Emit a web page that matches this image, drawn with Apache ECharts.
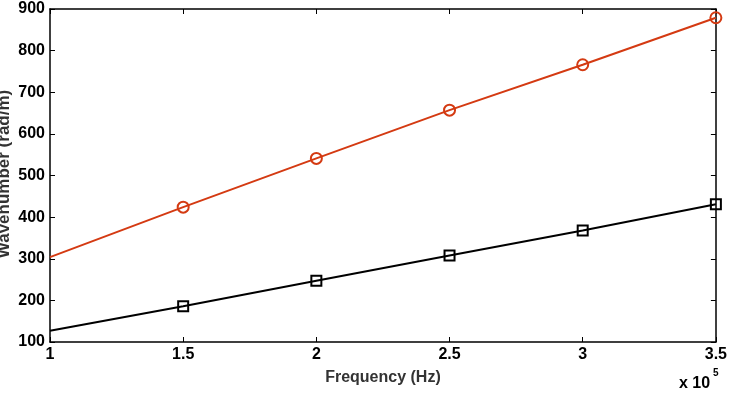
<!DOCTYPE html>
<html><head><meta charset="utf-8">
<script src="https://cdn.jsdelivr.net/npm/echarts@6/dist/echarts.min.js"></script>
<style>html,body{margin:0;padding:0;background:#fff}#c{width:730px;height:398px}</style>
</head><body><div id="c"></div>
<script>
const freq = [1, 1.5, 2, 2.5, 3, 3.5]; // x 10^5 Hz
const redSeries = [304, 424, 541, 657, 766, 879];
const blackSeries = [127, 186, 247, 308, 368, 431];
const xTicks = [1, 1.5, 2, 2.5, 3, 3.5];
const yTicks = [100, 200, 300, 400, 500, 600, 700, 800, 900];

const font = 'Liberation Sans, Arial, sans-serif';
function pts(vals){
  return vals.map((v,i)=>({value:[freq[i], v], symbol: i===0 ? 'none' : undefined}));
}
const chart = echarts.init(document.getElementById('c'));
const tickStyle = {show:true, inside:true, length:5, lineStyle:{color:'#000', width:1}};
chart.setOption({
  animation:false,
  grid:{left:50, right:11, top:9, bottom:56, show:false},
  xAxis:[{
    type:'value', min:1, max:3.5, interval:0.5,
    axisLine:{show:true, onZero:false, lineStyle:{color:'#000', width:1.5}},
    axisTick:tickStyle, splitLine:{show:false},
    axisLabel:{color:'#000', fontFamily:font, fontWeight:'bold', fontSize:16, margin:5},
    name:'Frequency (Hz)', nameLocation:'middle', nameGap:28,
    nameTextStyle:{color:'#333', fontFamily:font, fontWeight:'bold', fontSize:16}
  },{
    type:'value', position:'top', min:1, max:3.5, interval:0.5,
    axisLine:{show:true, onZero:false, lineStyle:{color:'#000', width:1.5}},
    axisTick:tickStyle, axisLabel:{show:false}, splitLine:{show:false}
  }],
  yAxis:[{
    type:'value', min:100, max:900, interval:100,
    axisLine:{show:true, onZero:false, lineStyle:{color:'#000', width:1.5}},
    axisTick:tickStyle, splitLine:{show:false},
    axisLabel:{color:'#000', fontFamily:font, fontWeight:'bold', fontSize:16, margin:5}
  },{
    type:'value', position:'right', min:100, max:900, interval:100,
    axisLine:{show:true, onZero:false, lineStyle:{color:'#000', width:1.5}},
    axisTick:tickStyle, axisLabel:{show:false}, splitLine:{show:false}
  }],
  graphic:[
    {type:'text', rotation:Math.PI/2, x:4, y:174,
     style:{text:'Wavenumber (rad/m)', fill:'#333', font:'bold 17px '+font, textAlign:'center', textVerticalAlign:'middle'}},
    {type:'text', x:679, y:376, style:{text:'x 10', fill:'#000', font:'bold 16px '+font}},
    {type:'text', x:713, y:368, style:{text:'5', fill:'#000', font:'bold 10px '+font}}
  ],
  series:[{
    type:'line', data:pts(redSeries), symbol:'circle', symbolSize:11, showAllSymbol:true,
    itemStyle:{color:'rgba(0,0,0,0)', borderColor:'#d43a12', borderWidth:2},
    lineStyle:{color:'#d43a12', width:2}, z:3
  },{
    type:'line', data:pts(blackSeries), symbol:'rect', symbolSize:10, showAllSymbol:true,
    itemStyle:{color:'rgba(0,0,0,0)', borderColor:'#000', borderWidth:2},
    lineStyle:{color:'#000', width:2}, z:3
  }]
});
</script></body></html>
